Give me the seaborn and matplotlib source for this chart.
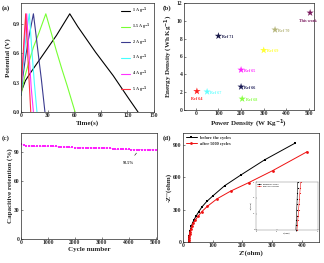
import numpy as np
import pandas as pd
import seaborn as sns
import matplotlib.pyplot as plt

# (a) galvanostatic charge/discharge
gcd_labels = ["1 A g$^{-1}$", "1.5 A g$^{-1}$", "2 A g$^{-1}$", "3 A g$^{-1}$", "4 A g$^{-1}$", "5 A g$^{-1}$"]
gcd_colors = ["black", "#77ff33", "#3b3b8f", "#44ffff", "#ff33ff", "#ff3344"]
gcd_time = [
    [0, 5, 10, 20, 30, 40, 55, 64, 74, 84, 94, 104, 113, 122, 132],
    [0, 4, 8, 14, 20, 28, 34, 40, 46, 52, 61],
    [0, 2, 5, 8, 11, 14, 17, 20, 23, 27],
    [0, 2, 4, 6, 9.4, 12, 15, 18],
    [0, 2, 4, 6.4, 9, 11.5, 14],
    [0, 1.5, 3.5, 5.3, 7.5, 11],
]
gcd_volt = [
    [0.2, 0.32, 0.39, 0.52, 0.65, 0.78, 1.0, 0.87, 0.74, 0.61, 0.49, 0.37, 0.25, 0.13, 0.0],
    [0.17, 0.35, 0.48, 0.66, 0.8, 1.0, 0.81, 0.62, 0.44, 0.27, 0.0],
    [0.17, 0.35, 0.55, 0.72, 0.86, 1.0, 0.78, 0.55, 0.33, 0.0],
    [0.18, 0.42, 0.62, 0.8, 1.0, 0.66, 0.3, 0.0],
    [0.2, 0.5, 0.75, 1.0, 0.6, 0.25, 0.0],
    [0.22, 0.45, 0.75, 1.0, 0.6, 0.0],
]

# (b) Ragone plot
ref_names = ["Ref 64", "Ref 67", "Ref 65", "Ref 66", "Ref 68", "Ref 69", "Ref 70", "Ref 71", "This work"]
ref_power = [5, 50, 200, 200, 205, 300, 350, 100, 505]
ref_energy = [2.1, 2.05, 4.5, 2.6, 1.25, 6.7, 9.0, 8.3, 10.9]
ref_colors = ["#ff2222", "#66ffff", "#ff22ff", "#1a1a55", "#88ff44", "#ffff33", "#b5b57a", "#1a1a4a", "#7a1a5e"]

# (c) cycling stability
cycle_no = [0, 100, 200, 300, 400, 500, 600, 700, 800, 900, 1000, 1100, 1200, 1300, 1400,
            1500, 1600, 1700, 1800, 1900, 2000, 2100, 2200, 2300, 2400, 2500, 2600, 2700,
            2800, 2900, 3000, 3100, 3200, 3300, 3400, 3500, 3600, 3700, 3800, 3900, 4000,
            4100, 4200, 4300, 4400, 4500, 4600, 4700, 4800, 4900, 5000]
retention = [98.5, 97.5, 97.0, 96.5, 96.5, 96.0, 96.0, 96.3, 96.3, 96.3, 96.3, 96.2, 96.2, 96.0, 95.5,
             95.5, 95.5, 95.3, 95.2, 95.0, 94.6, 94.6, 94.6, 94.5, 94.5, 94.5, 94.5, 94.4,
             94.4, 94.4, 94.4, 94.4, 94.4, 94.4, 93.8, 93.0, 93.0, 93.0, 93.0, 92.9, 92.9,
             92.8, 92.8, 92.8, 92.7, 92.7, 92.6, 92.6, 92.5, 92.5, 92.5]

# (d) Nyquist
z_re_before = [19.5, 19.8, 20.3, 21, 22, 23.5, 25.5, 28, 32, 37, 44, 53, 64, 80, 102, 140, 195, 275, 378]
z_im_before = [0, 15, 40, 60, 80, 100, 120, 145, 175, 205, 240, 280, 325, 375, 430, 520, 620, 760, 915]
z_re_after = [20, 20.3, 20.8, 21.5, 22.5, 24, 26.5, 30, 35, 42, 51, 63, 82, 115, 160, 222, 302, 418]
z_im_after = [0, 15, 35, 55, 75, 95, 120, 145, 175, 205, 240, 280, 330, 400, 470, 550, 660, 835]
# inset, high-frequency region
zi_re_before = [19.3, 19.4, 19.5, 19.6, 19.7, 19.8, 19.9, 20.0, 20.1, 20.2]
zi_im_before = [0, 6, 12, 18, 25, 32, 39, 46, 53, 60]
zi_re_after = [19.8, 20.0, 20.2, 20.4, 20.6, 20.8, 21.0, 21.2, 21.4, 21.6]
zi_im_after = [0, 6, 12, 18, 25, 32, 39, 46, 53, 60]

sns.set_style("ticks")
plt.rcParams["font.family"] = ["Liberation Serif", "DejaVu Serif"]
plt.rcParams["font.weight"] = "bold"
plt.rcParams["axes.labelweight"] = "bold"
plt.rcParams["xtick.direction"] = "in"
plt.rcParams["ytick.direction"] = "in"
plt.rcParams["xtick.labelsize"] = 4
plt.rcParams["ytick.labelsize"] = 4
plt.rcParams["axes.linewidth"] = 0.5
plt.rcParams["xtick.major.width"] = 0.4
plt.rcParams["ytick.major.width"] = 0.4
plt.rcParams["xtick.major.size"] = 1.5
plt.rcParams["ytick.major.size"] = 1.5
plt.rcParams["xtick.major.pad"] = 1
plt.rcParams["ytick.major.pad"] = 1

W, H = 324, 263
fig = plt.figure(figsize=(W / 100, H / 100), dpi=100)

def make_ax(x0, y0, x1, y1):
    return fig.add_axes([x0 / W, 1 - y1 / H, (x1 - x0) / W, (y1 - y0) / H])

lab = dict(fontsize=5, labelpad=1)

# ---- (a)
ax = make_ax(21, 3, 154, 112)
for t, v, c, l in zip(gcd_time, gcd_volt, gcd_colors, gcd_labels):
    sns.lineplot(x=t, y=v, color=c, label=l, lw=0.8, ax=ax, sort=False)
ax.set_xlim(0, 150)
ax.set_ylim(0, 1.11)
ax.set_xticks([0, 30, 60, 90, 120, 150])
ax.set_yticks([0.0, 0.3, 0.6, 0.9])
ax.set_xlabel("Time(s)", **lab)
ax.set_ylabel("Potential (V)", **lab)
ax.legend(loc="upper right", fontsize=3, frameon=False, handlelength=2.2,
          labelspacing=1.3, borderaxespad=0.3, handletextpad=0.6)
fig.text(2 / W, 1 - 10 / H, "(a)", fontsize=5, fontweight="bold")

# ---- (b)
ax = make_ax(184, 3, 314, 110)
df_b = pd.DataFrame({"power": ref_power, "energy": ref_energy, "name": ref_names})
sns.scatterplot(data=df_b, x="power", y="energy", hue="name", palette=ref_colors,
                marker="*", s=30, linewidth=0, legend=False, ax=ax)
offsets = {"Ref 64": (-25, -0.9), "This work": (-50, -0.95)}
for p, e, n, c in zip(ref_power, ref_energy, ref_names, ref_colors):
    dx, dy = offsets.get(n, (15, -0.1))
    ax.text(p + dx, e + dy, n, color=c, fontsize=3, fontweight="bold", va="center")
ax.set_xlim(-52, 522)
ax.set_ylim(0, 12)
ax.set_xticks([0, 100, 200, 300, 400, 500])
ax.set_yticks([0, 2, 4, 6, 8, 10, 12])
ax.set_xlabel("Power Density (W Kg$^{-1}$)", **lab)
ax.set_ylabel("Energy Density (Wh Kg$^{-1}$)", **lab)
fig.text(163 / W, 1 - 10 / H, "(b)", fontsize=5, fontweight="bold")

# ---- (c)
ax = make_ax(21, 133, 157, 239)
sns.lineplot(x=cycle_no, y=retention, color="#ff22ff", marker="s", markersize=1.5,
             markeredgewidth=0, lw=0.5, ls=":", ax=ax)
ax.annotate("92.5%", xy=(4350, 91.5), xytext=(3800, 78), fontsize=3, fontweight="bold",
            arrowprops=dict(arrowstyle="-", lw=0.4, color="black"))
ax.set_xlim(0, 5050)
ax.set_ylim(0, 110)
ax.set_xticks([0, 1000, 2000, 3000, 4000, 5000])
ax.set_yticks([0, 30, 60, 90])
ax.set_xlabel("Cycle number", **lab)
ax.set_ylabel("Capacitive retention (%)", **lab)
fig.text(2 / W, 1 - 140 / H, "(c)", fontsize=5, fontweight="bold")

# ---- (d)
ax = make_ax(183, 133, 319, 242)
sns.lineplot(x=z_re_before, y=z_im_before, color="black", marker="s", markersize=2,
             markeredgewidth=0, lw=0.7, sort=False, label="before the cycles", ax=ax)
sns.lineplot(x=z_re_after, y=z_im_after, color="#ee1111", marker="o", markersize=2,
             markeredgewidth=0, lw=0.7, sort=False, label="after 5000 cycles", ax=ax)
ax.set_xlim(0, 458)
ax.set_ylim(0, 1008)
ax.set_xticks([0, 100, 200, 300, 400])
ax.set_yticks([0, 300, 600, 900])
ax.set_xlabel("Z'(ohm)", **lab)
ax.set_ylabel("-Z''(ohm)", **lab)
ax.legend(loc="upper left", fontsize=3.2, frameon=False, handlelength=2.5,
          borderaxespad=0.2, labelspacing=0.4)
fig.text(163 / W, 1 - 140 / H, "(d)", fontsize=5, fontweight="bold")

# inset
axi = make_ax(256, 182, 318, 230)
sns.lineplot(x=zi_re_before, y=zi_im_before, color="black", marker="s", markersize=0.8,
             markeredgewidth=0, lw=0.4, sort=False, label="before the cycles", ax=axi)
sns.lineplot(x=zi_re_after, y=zi_im_after, color="#ee1111", marker="o", markersize=0.8,
             markeredgewidth=0, lw=0.4, sort=False, label="after 5000 cycles", ax=axi)
axi.set_xlim(0, 30)
axi.set_ylim(0, 60)
axi.set_xticks([0, 10, 20, 30])
axi.set_yticks([0, 20, 40, 60])
axi.tick_params(labelsize=1.5, length=0.8, width=0.3, pad=0.5, colors="#555555")
axi.set_xlabel("Z'(ohm)", fontsize=1.5, labelpad=0.5, color="#555555")
axi.set_ylabel("-Z''(ohm)", fontsize=1.5, labelpad=0.5, color="#555555")
for s in axi.spines.values():
    s.set_linewidth(0.3)
    s.set_color("#777777")
axi.legend(loc="upper left", fontsize=1.5, frameon=False, handlelength=2, borderaxespad=0.2)

fig.savefig("out.png", dpi=100)
